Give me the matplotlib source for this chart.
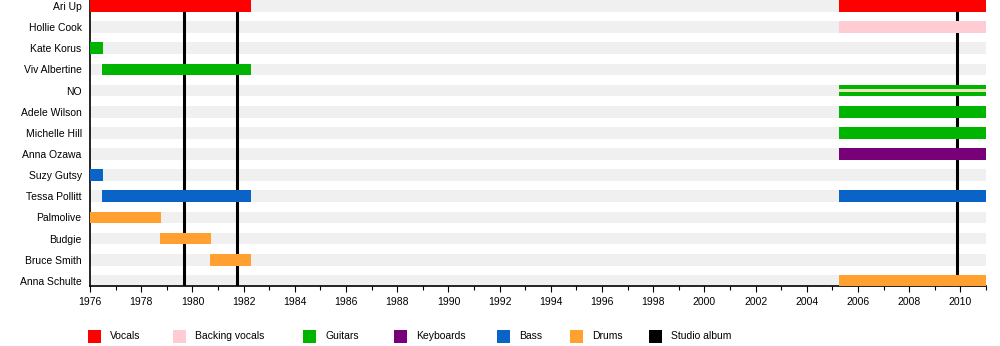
import matplotlib
matplotlib.use("Agg")
import matplotlib.pyplot as plt
import matplotlib.patches as patches
from matplotlib.ticker import MultipleLocator

members = [
    "Ari Up", "Hollie Cook", "Kate Korus", "Viv Albertine", "NO",
    "Adele Wilson", "Michelle Hill", "Anna Ozawa", "Suzy Gutsy",
    "Tessa Pollitt", "Palmolive", "Budgie", "Bruce Smith", "Anna Schulte",
]

roles = ["Vocals", "Backing vocals", "Guitars", "Keyboards", "Bass", "Drums"]

# one entry per stint in the band
spell_member = [
    "Ari Up", "Ari Up", "Hollie Cook", "Kate Korus", "Viv Albertine", "NO",
    "Adele Wilson", "Michelle Hill", "Anna Ozawa", "Suzy Gutsy",
    "Tessa Pollitt", "Tessa Pollitt", "Palmolive", "Budgie", "Bruce Smith",
    "Anna Schulte",
]
spell_role = [
    "Vocals", "Vocals", "Backing vocals", "Guitars", "Guitars", "Guitars",
    "Guitars", "Guitars", "Keyboards", "Bass",
    "Bass", "Bass", "Drums", "Drums", "Drums",
    "Drums",
]
spell_start = [
    1976.0, 2005.24, 2005.24, 1976.0, 1976.47, 2005.24,
    2005.24, 2005.24, 2005.24, 1976.0,
    1976.47, 2005.24, 1976.0, 1978.75, 1980.7,
    2005.24,
]
spell_end = [
    1982.27, 2011.0, 2011.0, 1976.5, 1982.27, 2011.0,
    2011.0, 2011.0, 2011.0, 1976.5,
    1982.27, 2011.0, 1978.77, 1980.72, 1982.27,
    2011.0,
]

# secondary roles drawn as a thin stripe inside the main bar
second_member = ["NO"]
second_role = ["Backing vocals"]
second_start = [2005.24]
second_end = [2011.0]

albums = [1979.68, 1981.74, 2009.88]

start_year = 1976
end_year = 2011

colors = {
    "Vocals": "#ff0000",
    "Backing vocals": "#ffccd3",
    "Guitars": "#00b400",
    "Keyboards": "#780078",
    "Bass": "#0a64c8",
    "Drums": "#ffa030",
}
second_colors = {"Backing vocals": "#ece4bc"}

plt.rcParams["font.family"] = ["Liberation Sans", "DejaVu Sans"]

fig = plt.figure(figsize=(10, 3.46), dpi=100)
ax = fig.add_axes([0.09, 0.1734, 0.896, 0.8266])

bar_h = 0.55
row = {m: i for i, m in enumerate(members)}

# grey background rows
ax.barh(range(len(members)), end_year - start_year, left=start_year,
        height=bar_h, color="#f0f0f0", zorder=1)

for x in albums:
    ax.axvline(x, color="black", linewidth=2.2, zorder=2)

for m, r, s, e in zip(spell_member, spell_role, spell_start, spell_end):
    ax.barh(row[m], e - s, left=s, height=bar_h, color=colors[r],
            linewidth=0, zorder=3)

for m, r, s, e in zip(second_member, second_role, second_start, second_end):
    ax.barh(row[m], e - s, left=s, height=bar_h * 0.33,
            color=second_colors[r], linewidth=0, zorder=4)

ax.set_xlim(start_year, end_year)
ax.set_ylim(len(members) - 1 + 0.24, -0.28)
ax.set_yticks(range(len(members)))
ax.set_yticklabels(members, fontsize=7.5)
ax.tick_params(axis="y", length=0, pad=6)
ax.xaxis.set_major_locator(MultipleLocator(2))
ax.xaxis.set_minor_locator(MultipleLocator(1))
ax.tick_params(axis="x", which="major", length=4, width=0.8, labelsize=7.5, pad=4)
ax.tick_params(axis="x", which="minor", length=3, width=0.8)
ax.spines["top"].set_visible(False)
ax.spines["right"].set_visible(False)
ax.spines["left"].set_linewidth(1.2)
ax.spines["bottom"].set_linewidth(1.2)

# legend along the bottom
legend_labels = roles + ["Studio album"]
legend_colors = [colors[r] for r in roles] + ["black"]
legend_x = [88, 173, 303, 394, 497, 570, 649]
sq = 13
y_px = 346 - 336
for lx, lab, col in zip(legend_x, legend_labels, legend_colors):
    fig.patches.append(patches.Rectangle(
        (lx / 1000, (y_px - sq / 2) / 346), sq / 1000, sq / 346,
        transform=fig.transFigure, facecolor=col, edgecolor="none"))
    fig.text((lx + 22) / 1000, y_px / 346, lab, fontsize=7.5,
             va="center", ha="left")

fig.savefig("out.png", dpi=100)
